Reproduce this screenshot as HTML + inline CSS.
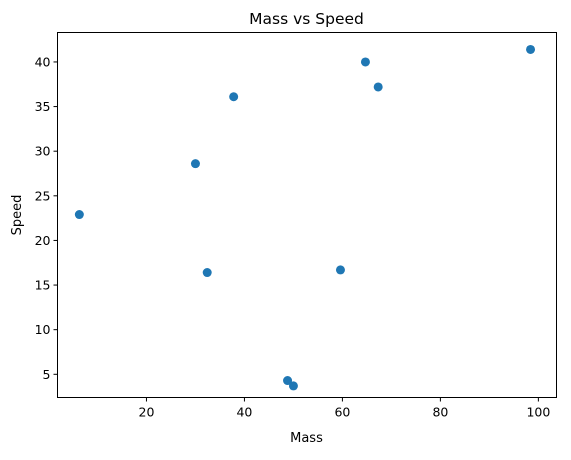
<!DOCTYPE html>
<html><head><meta charset="utf-8"><style>
body{margin:0;background:#fff;}
svg text{font-family:"DejaVu Sans","Liberation Sans",sans-serif;}
</style></head><body>
<svg id="chart" width="571" height="455" viewBox="0 0 571 455" xmlns="http://www.w3.org/2000/svg">
<rect width="571" height="455" fill="#fff"/>
<text x="306.5" y="24" text-anchor="middle" font-size="15.5">Mass vs Speed</text>
<g id="ticks"></g>
<g id="points"></g>
<rect x="57.5" y="32.5" width="499" height="365" fill="none" stroke="#000" stroke-width="1"/>
<text x="306.5" y="442" text-anchor="middle" font-size="13">Mass</text>
<text x="21" y="215" text-anchor="middle" font-size="13" transform="rotate(-90 21 215)">Speed</text>
</svg>
<script>
const massValues=[6.3,30.0,32.4,37.8,48.8,50.0,59.6,64.7,67.3,98.4];
const speedValues=[22.9,28.6,16.4,36.1,4.3,3.7,16.7,40.0,37.2,41.4];
const xTicks=[20,40,60,80,100];
const yTicks=[5,10,15,20,25,30,35,40];
const X0=57.5,X1=556.5,Y0=397.5,Y1=32.5;
const xMin=1.84,xMax=103.7,yMin=2.4,yMax=43.3;
function sx(v){return X0+(v-xMin)/(xMax-xMin)*(X1-X0);}
function sy(v){return Y0-(v-yMin)/(yMax-yMin)*(Y0-Y1);}
const NS="http://www.w3.org/2000/svg";
const tg=document.getElementById('ticks'),pg=document.getElementById('points');
xTicks.forEach(t=>{
 const x=sx(t);
 const l=document.createElementNS(NS,'line');
 
 
 l.setAttribute('x1',x);l.setAttribute('x2',x);l.setAttribute('y1',Y0);l.setAttribute('y2',Y0+4);l.setAttribute('stroke','#000');
 tg.appendChild(l);
 const tx=document.createElementNS(NS,'text');
 
 
 tx.setAttribute('x',x);tx.setAttribute('y',Y0+19);tx.setAttribute('text-anchor','middle');tx.setAttribute('font-size','12.5');
 tx.textContent=t;tg.appendChild(tx);
});
yTicks.forEach(t=>{
 const y=sy(t);
 const l=document.createElementNS(NS,'line');
 
 
 l.setAttribute('x1',X0-4);l.setAttribute('x2',X0);l.setAttribute('y1',y);l.setAttribute('y2',y);l.setAttribute('stroke','#000');
 tg.appendChild(l);
 const tx=document.createElementNS(NS,'text');
 
 
 tx.setAttribute('x',X0-7);tx.setAttribute('y',y+4.5);tx.setAttribute('text-anchor','end');tx.setAttribute('font-size','12.5');
 tx.textContent=t;tg.appendChild(tx);
});
massValues.forEach((m,i)=>{
 const c=document.createElementNS(NS,'circle');
 
 
 c.setAttribute('cx',sx(m));c.setAttribute('cy',sy(speedValues[i]));c.setAttribute('r',4.5);c.setAttribute('fill','#1f77b4');
 pg.appendChild(c);
});
</script>
</body></html>
